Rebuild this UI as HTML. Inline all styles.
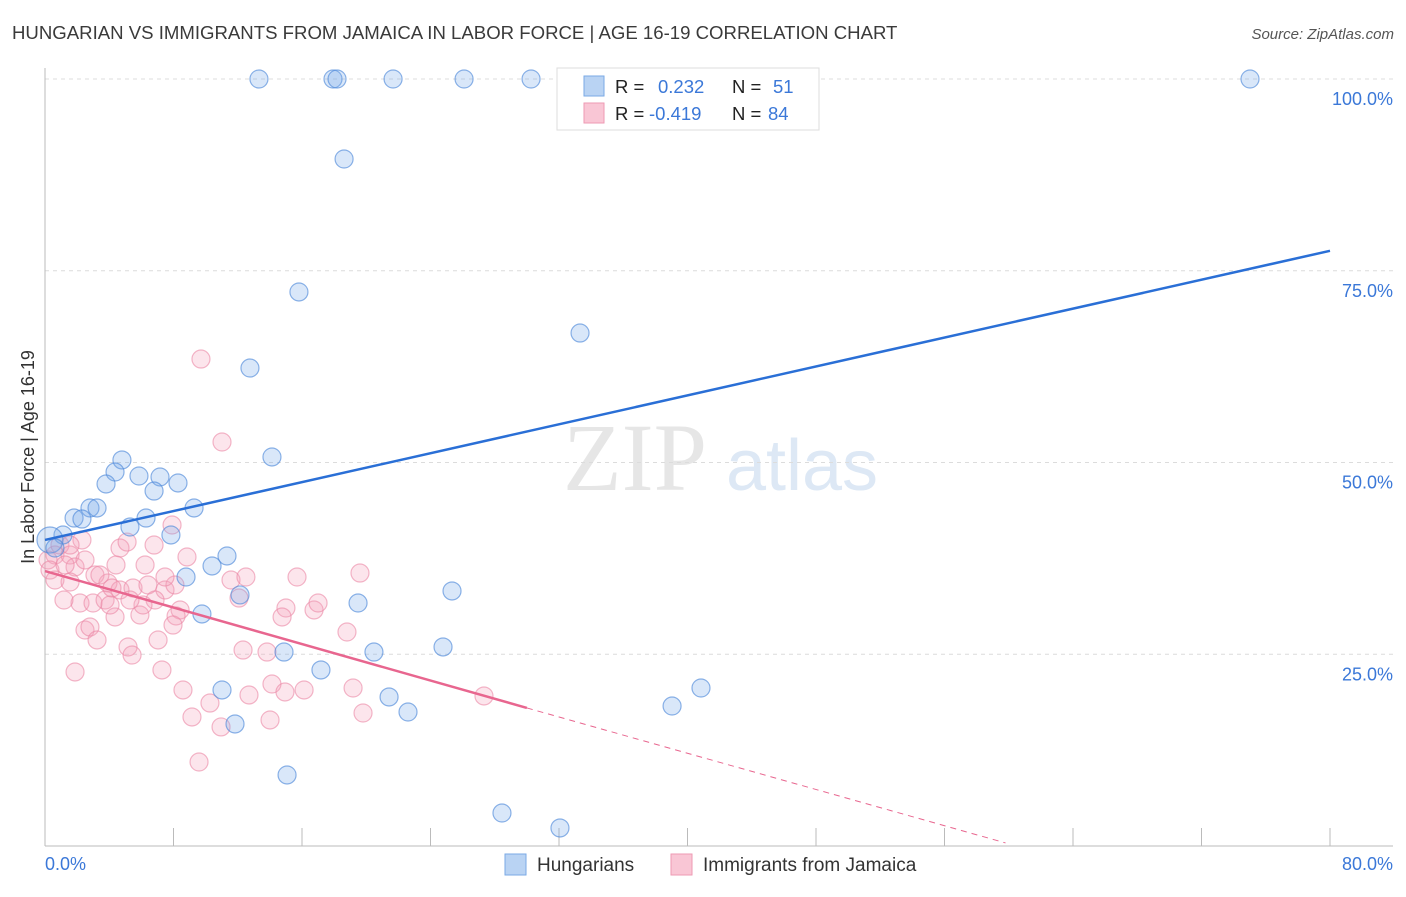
<!DOCTYPE html>
<html><head><meta charset="utf-8"><style>
body{margin:0;background:#fff;font-family:"Liberation Sans",sans-serif;}
</style></head><body>
<svg id="chart" width="1406" height="892" xmlns="http://www.w3.org/2000/svg" font-family="Liberation Sans, sans-serif">
<text x="12" y="39" font-size="18.6" fill="#3a3a3a">HUNGARIAN VS IMMIGRANTS FROM JAMAICA IN LABOR FORCE | AGE 16-19 CORRELATION CHART</text>
<text x="1394" y="39" font-size="15" fill="#555" font-style="italic" text-anchor="end">Source: ZipAtlas.com</text>
<g>
<text x="635" y="490" font-size="96" fill="#e6e6e6" font-family="Liberation Serif, serif" text-anchor="middle">ZIP</text>
<text x="802" y="490" font-size="72" fill="#dde8f5" text-anchor="middle">atlas</text>
</g>
<g id="grid"></g>
<g id="axes"></g>
<g id="marks"></g>
<g id="lines"></g>
<g>
<rect x="557" y="68" width="262" height="62" fill="#fff" stroke="#ddd"/>
<rect x="584" y="76" width="20" height="20" fill="#b9d3f3" stroke="#7aaae6"/>
<rect x="584" y="103" width="20" height="20" fill="#f9c6d5" stroke="#ee9ab3"/>
<text x="615" y="93" font-size="18.5" fill="#222">R = </text>
<text x="658" y="93" font-size="18.5" fill="#3b78d8">0.232</text>
<text x="732" y="93" font-size="18.5" fill="#222">N = </text>
<text x="773" y="93" font-size="18.5" fill="#3b78d8">51</text>
<text x="615" y="120" font-size="18.5" fill="#222">R = </text>
<text x="649" y="120" font-size="18.5" fill="#3b78d8">-0.419</text>
<text x="732" y="120" font-size="18.5" fill="#222">N = </text>
<text x="768" y="120" font-size="18.5" fill="#3b78d8">84</text>
</g>
<g>
<rect x="505" y="854" width="21" height="21" fill="#b9d3f3" stroke="#7aaae6"/>
<text x="537" y="871" font-size="19" fill="#333">Hungarians</text>
<rect x="671" y="854" width="21" height="21" fill="#f9c6d5" stroke="#ee9ab3"/>
<text x="703" y="871" font-size="19" fill="#333">Immigrants from Jamaica</text>
</g>
<text transform="translate(34,457) rotate(-90)" font-size="18" fill="#333" text-anchor="middle">In Labor Force | Age 16-19</text>
</svg>
<script>
const yTicks=[25,50,75,100];
const yTickLabels=["25.0%","50.0%","75.0%","100.0%"];
const xTickLabels=["0.0%","80.0%"];
const blueX=[13.32,17.93,18.18,21.67,26.09,30.26,41.28,75.02,18.62,15.81,33.31,12.76,14.13,4.79,5.85,4.36,3.80,7.16,8.28,6.79,2.80,3.24,9.28,1.81,2.30,1.12,5.29,6.29,7.84,0.31,0.62,11.33,10.40,8.78,25.34,12.14,19.49,9.77,24.78,20.48,14.88,17.18,11.02,21.42,40.84,39.04,22.60,11.83,15.07,28.45,32.06];
const blueY=[100,100,100,100,100,100,100,100,89.57,72.23,66.88,62.32,50.72,50.33,48.24,48.76,47.20,48.11,47.33,46.28,44.07,44.07,44.07,42.76,42.63,40.55,41.59,42.76,40.55,39.90,38.85,37.81,36.51,35.07,33.25,32.73,31.68,30.25,25.95,25.29,25.29,22.95,20.34,19.43,20.60,18.25,17.47,15.91,9.26,4.30,2.35];
const pinkX=[9.71,11.02,7.91,0.62,0.93,0.19,1.56,1.87,2.49,0.31,0.62,1.56,3.11,3.92,2.18,2.99,3.74,4.67,5.48,6.41,7.47,6.85,8.09,4.36,5.91,8.41,2.49,2.80,5.17,5.42,4.67,4.42,5.11,6.23,8.84,6.79,7.47,6.10,4.05,8.16,7.97,7.04,1.87,7.28,8.59,9.15,10.27,10.96,9.59,11.58,12.51,12.08,12.70,12.33,13.82,14.13,14.94,16.13,14.01,15.00,14.76,16.75,17.00,15.69,19.61,18.80,19.18,19.80,27.33,1.18,3.42,2.30,3.24,1.56,4.17,5.29,1.25];
const pinkY=[63.49,52.67,41.85,37.94,39.24,37.29,37.94,36.38,37.29,35.98,34.68,34.42,35.33,34.29,31.68,31.68,32.07,33.38,33.64,34.03,33.38,32.07,34.03,29.86,30.12,30.77,28.16,28.55,25.95,24.90,38.85,36.64,39.63,36.64,37.68,39.24,35.07,31.42,31.42,29.99,28.81,26.86,22.69,22.95,20.34,16.82,18.64,15.52,10.95,34.68,35.07,32.33,19.69,25.55,25.29,21.12,20.08,20.34,16.43,31.03,29.86,30.77,31.68,35.07,35.59,27.90,20.60,17.34,19.56,32.07,35.33,39.90,26.86,39.24,33.64,32.07,36.64];
const blueLine=[[0,39.9],[80,77.6]];
const pinkSolid=[[0,35.85],[30.0,18.0]];
const pinkDash=[[30.0,18.0],[59.8,0.4]];

const NS="http://www.w3.org/2000/svg";
const X0=45,X1=1330,Y0=846,Y100=79;
const sx=v=>X0+(X1-X0)*v/80;
const sy=v=>Y0-(Y0-Y100)*v/100;
function mk(tag,attrs,parent){const e=document.createElementNS(NS,tag);for(const k in attrs)e.setAttribute(k,attrs[k]);document.getElementById(parent).appendChild(e);return e;}
yTicks.forEach((t,i)=>{
 const g=mk('line',{x1:X0,x2:1393,y1:sy(t),y2:sy(t),stroke:'#dcdcdc','stroke-dasharray':'4,4'},'grid');
 
 
 const tx=mk('text',{x:1393,y:sy(t)+26,'font-size':18,fill:'#3b78d8','text-anchor':'end'},'axes');
 tx.textContent=yTickLabels[i];
 
 
});
let a=mk('line',{x1:X0,x2:X0,y1:68,y2:Y0,stroke:'#bbb'},'axes');


a=mk('line',{x1:X0,x2:1393,y1:Y0,y2:Y0,stroke:'#bbb'},'axes');


for(let i=0;i<=10;i++){const t=mk('line',{x1:sx(i*8),x2:sx(i*8),y1:Y0,y2:Y0-18,stroke:'#bbb'},'axes');
 
 }
let xl=mk('text',{x:45,y:870,'font-size':18,fill:'#3b78d8'},'axes');xl.textContent=xTickLabels[0];


xl=mk('text',{x:1393,y:870,'font-size':18,fill:'#3b78d8','text-anchor':'end'},'axes');xl.textContent=xTickLabels[1];


pinkX.forEach((v,i)=>{const c=mk('circle',{cx:sx(v),cy:sy(pinkY[i]),r:9,fill:'rgba(243,160,185,0.28)',stroke:'rgba(235,135,165,0.6)','stroke-width':1.2},'marks');
 
 });
blueX.forEach((v,i)=>{const c=mk('circle',{cx:sx(v),cy:sy(blueY[i]),r:i==29?13:9,fill:'rgba(120,170,232,0.28)',stroke:'rgba(80,138,218,0.65)','stroke-width':1.2},'marks');
 
 });
let l=mk('line',{x1:sx(blueLine[0][0]),y1:sy(blueLine[0][1]),x2:sx(blueLine[1][0]),y2:sy(blueLine[1][1]),stroke:'#2a6fd6','stroke-width':2.5},'lines');


l=mk('line',{x1:sx(pinkSolid[0][0]),y1:sy(pinkSolid[0][1]),x2:sx(pinkSolid[1][0]),y2:sy(pinkSolid[1][1]),stroke:'#e8668f','stroke-width':2.5},'lines');


l=mk('line',{x1:sx(pinkDash[0][0]),y1:sy(pinkDash[0][1]),x2:sx(pinkDash[1][0]),y2:sy(pinkDash[1][1]),stroke:'#e8668f','stroke-width':1,'stroke-dasharray':'6,5'},'lines');


</script>
</body></html>
